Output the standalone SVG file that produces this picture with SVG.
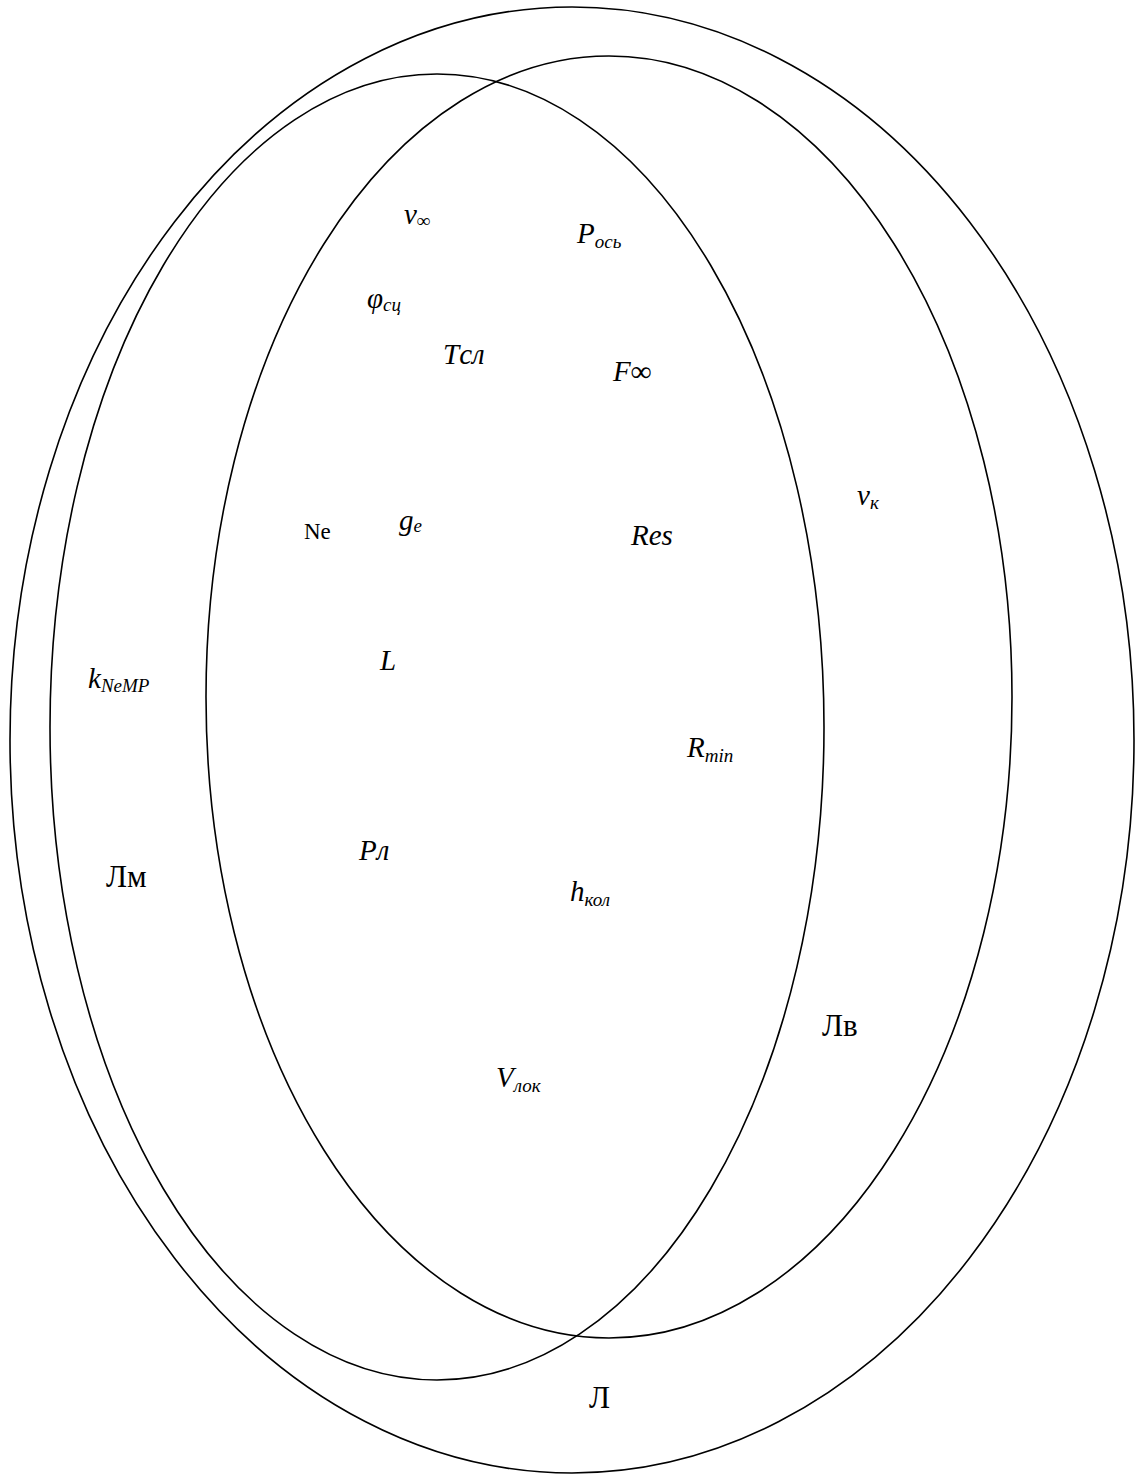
<svg xmlns="http://www.w3.org/2000/svg" width="1140" height="1479" viewBox="0 0 1140 1479">
<style>
.e{fill:none;stroke:#000;stroke-width:1.6}
.t{font-family:'Liberation Serif','Times New Roman','DejaVu Serif',serif;font-style:italic;font-size:29px;fill:#000}
.u{font-family:'Liberation Serif','Times New Roman','DejaVu Serif',serif;font-size:31px;fill:#000}
.s{font-size:19px}
</style>
<rect width="1140" height="1479" fill="#fff"/>
<g id="sets">
<ellipse id="L" class="e" cx="572" cy="740" rx="562" ry="733"/>
<ellipse id="Lm" class="e" cx="437" cy="727" rx="387" ry="653"/>
<ellipse id="Lv" class="e" cx="609" cy="697" rx="403" ry="641"/>
</g>
<g id="labels">
<text class="t" x="404" y="224">v<tspan class="s" dy="3">∞</tspan></text>
<text class="t" x="577" y="243">P<tspan class="s" dy="5">ось</tspan></text>
<text class="t" x="367" y="308">φ<tspan class="s" dy="3">сц</tspan></text>
<text class="t" x="443" y="364">Tсл</text>
<text class="t" x="613" y="381">F∞</text>
<text class="u" x="304" y="539" style="font-size:23px">Ne</text>
<text class="t" x="399" y="530">g<tspan class="s" dy="2">e</tspan></text>
<text class="t" x="631" y="545">Res</text>
<text class="t" x="857" y="505">v<tspan class="s" dy="4">к</tspan></text>
<text class="t" x="380" y="670">L</text>
<text class="t" x="88" y="688">k<tspan class="s" dy="4">NeMP</tspan></text>
<text class="t" x="687" y="757">R<tspan class="s" dy="5">min</tspan></text>
<text class="t" x="359" y="860">Pл</text>
<text class="u" x="106" y="887">Лм</text>
<text class="t" x="570" y="901">h<tspan class="s" dy="5">кол</tspan></text>
<text class="u" x="822" y="1036">Лв</text>
<text class="t" x="496" y="1087">V<tspan class="s" dy="5">лок</tspan></text>
<text class="u" x="589" y="1408">Л</text>
</g>
</svg>
